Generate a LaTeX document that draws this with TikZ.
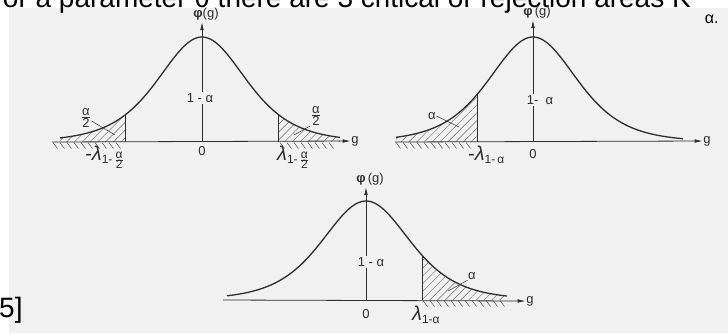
\documentclass[tikz,border=0pt]{standalone}
\usepackage{fontspec}
\setmainfont{Liberation Sans}
\usetikzlibrary{arrows.meta,patterns.meta}
\definecolor{scan}{RGB}{241,241,241}
\definecolor{ink}{RGB}{45,45,45}
\newcommand{\halfa}{$\frac{\mbox{α}}{\mbox{2}}$}
\newcommand{\lamb}{{\fontsize{20}{20}\selectfont\itshape λ}}
\tikzset{
  curve/.style={line width=1.3pt, draw=ink},
  axisl/.style={line width=0.8pt, draw=ink},
  arr/.style={-{Latex[length=8pt,width=3.6pt]}},
  crit/.style={line width=0.9pt, draw=ink},
  hatchfill/.style={pattern={Lines[angle=45,distance=5.5pt,line width=0.45pt]}, pattern color=black!60},
  ticks/.style={line width=0.5pt, draw=black!70},
  lead/.style={line width=0.5pt, draw=ink},
  lbl/.style={font=\fontsize{13}{13}\selectfont, inner sep=0.5pt, text=ink},
  midl/.style={lbl, fill=scan, inner sep=1.5pt},
  lam/.style={inner sep=0pt, text=ink},
  big/.style={font=\fontsize{28}{28}\selectfont, inner sep=0pt, text=black},
}
\begin{document}
\begin{tikzpicture}[x=1pt,y=-1pt,
  declare function={bell(\d)=1/(1+(\d/101.7)^2)^3;}]
\useasboundingbox (0,0) rectangle (728,333);
\clip (0,0) rectangle (728,333);
\fill[white] (0,0) rectangle (728,333);
\fill[scan] (9,8) rectangle (728,333);

% ---------- title and reference ----------
\node[big, anchor=base west] (title) at (-5,7)
  {for a parameter θ there are 3 critical or rejection areas K\hspace{14pt}\raisebox{-16pt}{\fontsize{16}{16}\selectfont α.}};
\node[big, anchor=base west] (refnum) at (-1,317) {5]};

% ================= curve 1 (two-sided) =================
\coordinate (o1) at (202,142);
\coordinate (a1s) at (52,142);
\coordinate (t1) at (202,22);
\coordinate (c1l) at (125,142);
\coordinate (c1r) at (278,142);
\coordinate (c1lt) at (125,{142-105*bell(-77)});
\coordinate (c1rt) at (278,{142-105*bell(76)});
\fill[hatchfill] plot[domain=-142:-77,samples=30] ({202+\x},{142-105*bell(\x)}) -- (c1l) -- (60,142) -- cycle;
\fill[hatchfill] plot[domain=76:138,samples=30] ({202+\x},{142-105*bell(\x)}) -- (340,142) -- (c1r) -- cycle;
\foreach \x in {53,60,...,120} \draw[ticks] (\x,142.5) -- ++(4.5,6);
\foreach \x in {280,287,...,334} \draw[ticks] (\x,142.5) -- ++(4.5,6);
\node[lbl] (g1) at (355,141) {g};
\draw[axisl,arr] (a1s) -- (g1.west);
\node[lbl] (phi1) at (206,14) {\textbf{φ}(g)};
\draw[axisl,arr] (o1) -- (t1);
\draw[curve] plot[domain=-142:138,samples=120] ({202+\x},{142-105*bell(\x)});
\draw[crit] (c1l) -- (c1lt);
\draw[crit] (c1r) -- (c1rt);
\node[midl] (m1) at (200,98) {1 - α};
\node[lbl] (z1) at (202,151) {0};
\node[lbl] (hl1) at (86,118) {\halfa};
\node[lbl] (hr1) at (316,116) {\halfa};
\coordinate (p1l) at (115,135);
\coordinate (p1r) at (294,135);
\draw[lead] (hl1.east) ++(0,3) -- (p1l);
\draw[lead] (hr1.south west) -- (p1r);
\node[lam, anchor=base east] (l1) at (124,160)
  {{\fontsize{20}{20}\selectfont -}\lamb\raisebox{-3pt}{\fontsize{12}{12}\selectfont 1-\,\halfa}};
\node[lam, anchor=base west] (r1) at (277,160)
  {\lamb\raisebox{-3pt}{\fontsize{12}{12}\selectfont 1-\,\halfa}};

% ================= curve 2 (left-sided) =================
\coordinate (o2) at (533,142);
\coordinate (a2s) at (395,142);
\coordinate (t2) at (533,20);
\coordinate (c2) at (477,142);
\coordinate (c2t) at (477,{142-105*bell(-56)});
\fill[hatchfill] plot[domain=-137:-56,samples=30] ({533+\x},{142-105*bell(\x)}) -- (c2) -- (396,142) -- cycle;
\foreach \x in {396,403,...,472} \draw[ticks] (\x,142.5) -- ++(4.5,6);
\node[lbl] (g2) at (707,141) {g};
\draw[axisl,arr] (a2s) -- (g2.west);
\node[lbl] (phi2) at (537,12) {\textbf{φ}\,(g)};
\draw[axisl,arr] (o2) -- (t2);
\draw[curve] plot[domain=-137:150,samples=120] ({533+\x},{142-105*bell(\x)});
\draw[crit] (c2) -- (c2t);
\node[midl] (m2) at (540,100) {1- \ α};
\node[lbl] (z2) at (533,154) {0};
\node[lbl] (al2) at (432,116) {α};
\coordinate (p2) at (459,127);
\draw[lead] (al2.east) -- (p2);
\node[lam, anchor=base west] (l2) at (468,160)
  {{\fontsize{20}{20}\selectfont -}\lamb\raisebox{-3pt}{\fontsize{12}{12}\selectfont 1-\,α}};

% ================= curve 3 (right-sided) =================
\coordinate (o3) at (366,300);
\coordinate (a3s) at (223,300);
\coordinate (t3) at (366,187);
\coordinate (c3) at (422,300);
\coordinate (c3t) at (422,{300-99*bell(56)});
\fill[hatchfill] plot[domain=56:141,samples=30] ({366+\x},{300-99*bell(\x)}) -- (507,300) -- (c3) -- cycle;
\foreach \x in {423,430,...,503} \draw[ticks] (\x,300.5) -- ++(4.5,6);
\node[lbl] (g3) at (530,301) {g};
\draw[axisl,arr] (a3s) -- (g3.west);
\node[lbl] (phi3) at (370,179) {\textbf{φ}\,(g)};
\draw[axisl,arr] (o3) -- (t3);
\draw[curve] plot[domain=-139:141,samples=120] ({366+\x},{300-99*bell(\x)});
\draw[crit] (c3) -- (c3t);
\node[midl] (m3) at (371,262) {1 - α};
\node[lbl] (z3) at (366,314) {0};
\node[lbl] (al3) at (472,276) {α};
\coordinate (p3) at (448,291);
\draw[lead] (al3.south west) -- (p3);
\node[lam, anchor=base west] (l3) at (412,320)
  {\lamb\raisebox{-3pt}{\fontsize{12}{12}\selectfont 1-α}};
\end{tikzpicture}
\end{document}
